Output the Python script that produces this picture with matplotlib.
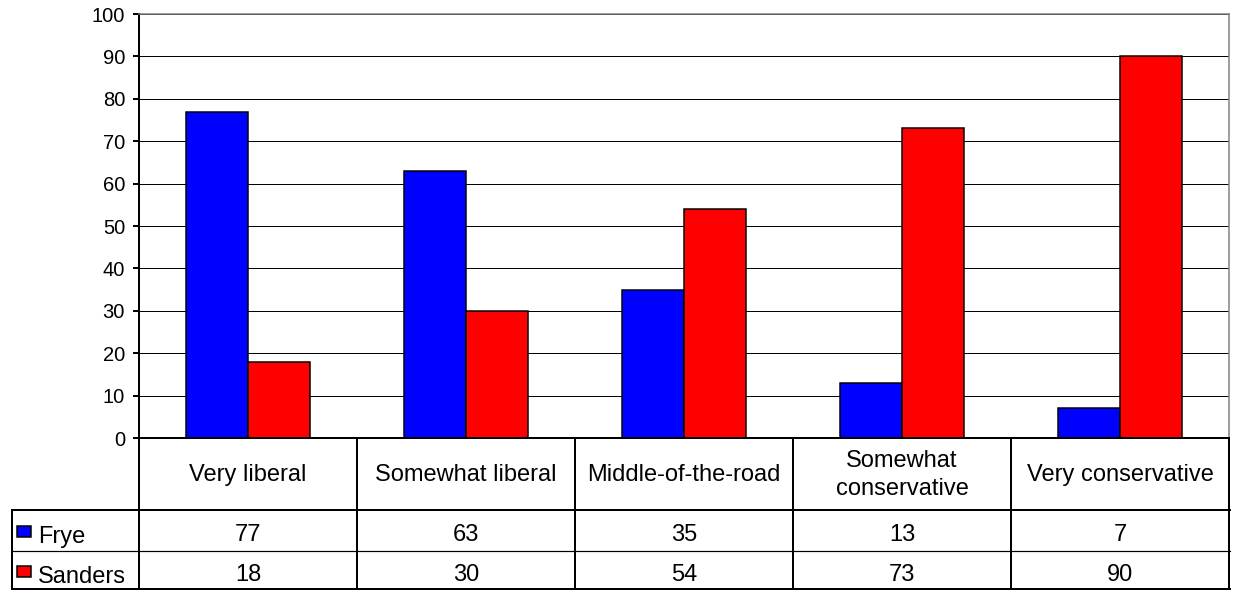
import matplotlib
matplotlib.use("Agg")
import matplotlib.pyplot as plt
import matplotlib.transforms as mtransforms
from matplotlib.lines import Line2D
from matplotlib.patches import Rectangle
import numpy as np

categories = ["Very liberal", "Somewhat liberal", "Middle-of-the-road",
              "Somewhat\nconservative", "Very conservative"]
series_names = ["Frye", "Sanders"]
frye = [77, 63, 35, 13, 7]
sanders = [18, 30, 54, 73, 90]
yticks = list(range(0, 101, 10))

colors = ["#0000FF", "#FF0000"]

W, H = 1233, 590
PX = 0.72  # points per pixel at dpi 100

plt.rcParams["font.family"] = ["Liberation Sans", "DejaVu Sans"]

fig = plt.figure(figsize=(W / 100, H / 100), dpi=100)
fig.patch.set_facecolor("white")

# plot area in pixel terms
left, right, top, bottom = 139, 1229, 14, 438
ax = fig.add_axes([left / W, 1 - bottom / H, (right - left) / W, (bottom - top) / H])

x = np.arange(len(categories))
bw = 0.284
for vals, off, c in zip([frye, sanders], [-bw / 2, bw / 2], colors):
    ax.bar(x + off, vals, width=bw, color=c, edgecolor="black", linewidth=1.5 * PX, zorder=3)

ax.set_xlim(-0.5, len(categories) - 0.5)
ax.set_ylim(0, 100)
ax.set_yticks(yticks)
ax.set_yticklabels([str(t) for t in yticks], fontsize=14.5)
ax.set_xticks([])
ax.tick_params(axis="y", direction="out", length=6 * PX, width=2 * PX, pad=8 * PX, colors="black")
ax.yaxis.grid(True, color="black", linewidth=1 * PX, zorder=0)
ax.set_axisbelow(True)

ax.spines["left"].set_linewidth(2 * PX)
ax.spines["bottom"].set_linewidth(2 * PX)
ax.spines["bottom"].set_zorder(4)
for s in ["top", "right"]:
    ax.spines[s].set_color("#808080")
    ax.spines[s].set_linewidth(1.5 * PX)

# --- data table below the plot ---
T = mtransforms.Affine2D().scale(1 / W, -1 / H).translate(0, 1) + fig.transFigure
TB = mtransforms.blended_transform_factory(ax.transData, T)

tab_left, row1, row2, tab_bot = 12, 510, 551, 589
tab_right = 1230


def line(xs, ys, lw, tr=T):
    fig.add_artist(Line2D(xs, ys, color="black", linewidth=lw * PX, transform=tr))


line([tab_left, tab_right], [row1, row1], 2)
line([tab_left, tab_right], [row2, row2], 1.2)
line([tab_left, tab_right], [tab_bot, tab_bot], 2)
line([tab_left, tab_left], [row1, tab_bot], 2)
line([left, left], [bottom, tab_bot], 2)
for i in range(len(categories)):
    line([i + 0.5, i + 0.5], [bottom, tab_bot], 2, TB)

for i, cat in enumerate(categories):
    fig.text(i, 475, cat, transform=TB, ha="center", va="center",
             fontsize=17, linespacing=1.4)

for vals, base in zip([frye, sanders], [541, 581]):
    for i, v in enumerate(vals):
        fig.text(i, base, str(v), transform=TB, ha="center", va="baseline", fontsize=17)

for name, c, base in zip(series_names, colors, [541, 581]):
    fig.add_artist(Rectangle((17, base - 15), 14, 11, facecolor=c, edgecolor="black",
                             linewidth=1.5 * PX, transform=T))
    fig.text(38, base + 2, name, transform=T, ha="left", va="baseline", fontsize=17)

fig.savefig("out.png", dpi=100, facecolor="white")
